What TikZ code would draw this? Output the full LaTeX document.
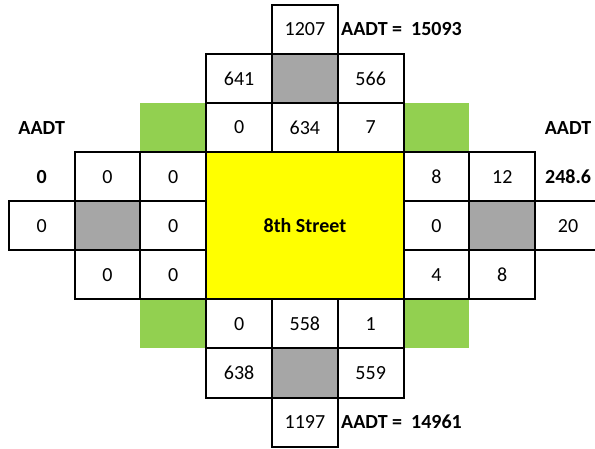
\documentclass[tikz,border=0pt]{standalone}
\usepackage{fontspec}
\setmainfont{Carlito}
\definecolor{cellgreen}{HTML}{92D050}
\definecolor{cellgrey}{HTML}{A6A6A6}
\definecolor{cellyellow}{HTML}{FFFF00}
\tikzset{
  cell/.style={draw=black, line width=2pt, minimum width=65.8pt, minimum height=49.1pt, inner sep=0pt, font=\fontsize{20}{24}\selectfont},
  greycell/.style={cell, fill=cellgrey},
  greencell/.style={fill=cellgreen, minimum width=65.8pt, minimum height=49.1pt, inner sep=0pt},
  lbl/.style={inner sep=0pt, font=\bfseries\fontsize{20}{24}\selectfont},
  center/.style={draw=black, line width=2pt, fill=cellyellow, minimum width=197.4pt, minimum height=147.3pt, inner sep=0pt, font=\bfseries\fontsize{20}{24}\selectfont}
}
\begin{document}
\begin{tikzpicture}[x=1pt,y=-1pt]
\useasboundingbox (0,0) rectangle (595,449);
% green corners
\node[greencell] (gNW) at (173.3,127.55) {};
\node[greencell] (gNE) at (436.5,127.55) {};
\node[greencell] (gSW) at (173.3,323.95) {};
\node[greencell] (gSE) at (436.5,323.95) {};
% centre
\node[center] (street) at (304.9,225.75) {8th Street};
% north approach
\node[cell] (n1) at (304.9,29.35) {1207};
\node[cell] (n2l) at (239.1,78.45) {641};
\node[greycell] (n2m) at (304.9,78.45) {};
\node[cell] (n2r) at (370.7,78.45) {566};
\node[cell] (n3l) at (239.1,127.55) {0};
\node[cell] (n3m) at (304.9,127.55) {634};
\node[cell] (n3r) at (370.7,127.55) {7};
% south approach
\node[cell] (s3l) at (239.1,323.95) {0};
\node[cell] (s3m) at (304.9,323.95) {558};
\node[cell] (s3r) at (370.7,323.95) {1};
\node[cell] (s2l) at (239.1,373.05) {638};
\node[greycell] (s2m) at (304.9,373.05) {};
\node[cell] (s2r) at (370.7,373.05) {559};
\node[cell] (s1) at (304.9,422.15) {1197};
% west approach
\node[cell] (w2t) at (107.5,176.65) {0};
\node[cell] (w3t) at (173.3,176.65) {0};
\node[cell] (w1) at (41.7,225.75) {0};
\node[greycell] (w2m) at (107.5,225.75) {};
\node[cell] (w3m) at (173.3,225.75) {0};
\node[cell] (w2b) at (107.5,274.85) {0};
\node[cell] (w3b) at (173.3,274.85) {0};
% east approach
\node[cell] (e3t) at (436.5,176.65) {8};
\node[cell] (e2t) at (502.3,176.65) {12};
\node[cell] (e3m) at (436.5,225.75) {0};
\node[greycell] (e2m) at (502.3,225.75) {};
\node[cell] (e1) at (568.1,225.75) {20};
\node[cell] (e3b) at (436.5,274.85) {4};
\node[cell] (e2b) at (502.3,274.85) {8};
% labels
\node[lbl] (aadtW) at (41.7,127.55) {AADT};
\node[lbl] (valW) at (41.7,176.65) {0};
\node[lbl] (aadtE) at (568.1,127.55) {AADT};
\node[lbl] (valE) at (568.1,176.65) {248.6};
\node[lbl, anchor=west] (aadtN) at (341,29.35) {AADT =\hspace{0.45em}15093};
\node[lbl, anchor=west] (aadtS) at (341,422.15) {AADT =\hspace{0.45em}14961};
\end{tikzpicture}
\end{document}
